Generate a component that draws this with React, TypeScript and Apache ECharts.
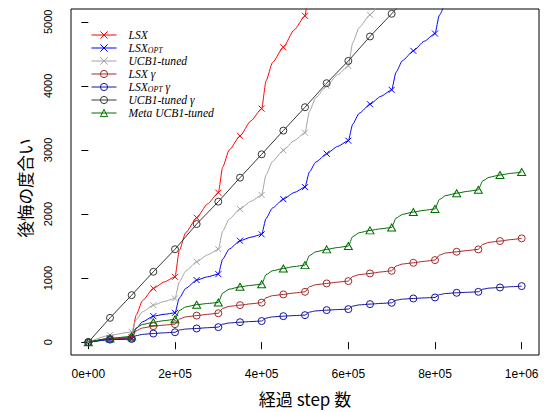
import React, { useEffect, useRef } from 'react';
import * as echarts from 'echarts';

// marker steps: every 50,000 steps from 0 to 1e6
const markSteps = [
  0, 50000, 100000, 150000, 200000, 250000, 300000, 350000, 400000, 450000, 500000,
  550000, 600000, 650000, 700000, 750000, 800000, 850000, 900000, 950000, 1000000,
];
// inside every 100,000-step segment: curve readings at +10k, +25k, +75k
const midOffsets = [10000, 25000, 75000];

const xTickValues = [0, 200000, 400000, 600000, 800000, 1000000];
const xTickLabels = ['0e+00', '2e+05', '4e+05', '6e+05', '8e+05', '1e+06'];
const yTickValues = [0, 1000, 2000, 3000, 4000, 5000];
const yTickLabels = ['0', '1000', '2000', '3000', '4000', '5000'];

const N = null;

const lsxMarks = [0, 60, 73, 839, 1020, 1942, 2333, 3219, 3645, 4604, 5094, 6180, N, N, N, N, N, N, N, N, N];
const lsxMids = [N, N, N, 418, 648, 939, 1435, 1712, 2157, 2732, 2998, 3453, 4077, 4364, 4874, 5583, 5909, N, N, N, N, N, N, N, N, N, N, N, N, N];

const lsxOptMarks = [0, 40, 50, 406, 458, 969, 1062, 1583, 1683, 2232, 2420, 2942, 3145, 3714, 3938, 4547, 4817, 5450, N, N, N];
const lsxOptMids = [N, N, N, 210, 317, 435, 688, 841, 1020, 1296, 1453, 1638, 1930, 2095, 2335, 2655, 2812, 3054, 3401, 3572, 3837, 4212, 4395, 4696, 5102, 5292, N, N, N, N];

const ucbMarks = [0, 109, 160, 578, 683, 1255, 1450, 2078, 2297, 2995, 3270, 4000, 4312, 5110, 5440, N, N, N, N, N, N];
const ucbMids = [N, N, N, 348, 474, 636, 940, 1112, 1362, 1733, 1921, 2198, 2611, 2821, 3146, 3599, 3818, 4172, 4671, 4911, 5292, N, N, N, N, N, N, N, N, N];

const lsxGMarks = [0, 50, 65, 250, 281, 415, 452, 578, 617, 745, 786, 917, 953, 1073, 1114, 1239, 1281, 1411, 1448, 1578, 1620];
const lsxGMids = [N, N, N, 176, 222, 267, 361, 395, 435, 528, 559, 599, 694, 726, 768, 865, 897, 937, 1025, 1055, 1096, 1189, 1220, 1262, 1359, 1392, 1431, 1526, 1559, 1601];

const lsxOptGMarks = [0, 40, 50, 135, 155, 214, 235, 312, 330, 406, 422, 500, 516, 594, 614, 682, 698, 771, 786, 854, 875];
const lsxOptGMids = [N, N, N, 101, 122, 146, 190, 205, 226, 281, 300, 322, 376, 395, 415, 469, 488, 509, 563, 582, 605, 655, 672, 691, 742, 760, 779, 827, 844, 866];

const ucbGMarks = [0, 380, 734, 1099, 1450, 1844, 2193, 2568, 2932, 3302, 3667, 4042, 4390, 4771, 5125, 5490, N, N, N, N, N];

const metaMarks = [0, 60, 90, 310, 357, 585, 620, 864, 905, 1151, 1203, 1448, 1500, 1745, 1790, 2031, 2080, 2325, 2378, 2609, 2656];
const metaMids = [N, N, N, 222, 277, 336, 494, 551, 604, 766, 827, 887, 1053, 1114, 1180, 1350, 1411, 1477, 1647, 1708, 1770, 1935, 1995, 2058, 2227, 2288, 2354, 2517, 2574, 2635];

const CROSS = 'path://M0,0L10,10M10,0L0,10';
const CIRCLE = 'path://M10,5A5,5,0,1,1,0,5A5,5,0,1,1,10,5Z';
const TRIANGLE = 'path://M5,0L10,8.66L0,8.66Z';

type Def = {
  name: string;
  label: string;
  color: string;
  symbol: string;
  size: number | number[];
  marks: (number | null)[];
  mids: (number | null)[] | null;
};

const defs: Def[] = [
  { name: 'LSX', label: '{m|LSX}', color: '#FF0000', symbol: CROSS, size: 6, marks: lsxMarks, mids: lsxMids },
  { name: 'LSX_OPT', label: '{m|LSX}{s|OPT}', color: '#0000FF', symbol: CROSS, size: 6, marks: lsxOptMarks, mids: lsxOptMids },
  { name: 'UCB1-tuned', label: '{m|UCB1-tuned}', color: '#A3A3A3', symbol: CROSS, size: 6, marks: ucbMarks, mids: ucbMids },
  { name: 'LSX γ', label: '{m|LSX γ}', color: '#A52A2A', symbol: CIRCLE, size: 7, marks: lsxGMarks, mids: lsxGMids },
  { name: 'LSX_OPT γ', label: '{m|LSX}{s|OPT}{m| γ}', color: '#1414A0', symbol: CIRCLE, size: 7, marks: lsxOptGMarks, mids: lsxOptGMids },
  { name: 'UCB1-tuned γ', label: '{m|UCB1-tuned γ}', color: '#383838', symbol: CIRCLE, size: 7, marks: ucbGMarks, mids: null },
  { name: 'Meta UCB1-tuned', label: '{m|Meta UCB1-tuned}', color: '#006E00', symbol: TRIANGLE, size: [8, 7], marks: metaMarks, mids: metaMids },
];

function buildData(marks: (number | null)[], mids: (number | null)[] | null) {
  const out: any[] = [];
  const add = (x: number, v: number | null | undefined, isMark: boolean) => {
    if (v === null || v === undefined) return;
    out.push(isMark ? { value: [x, v] } : { value: [x, v], symbol: 'none' });
  };
  for (let seg = 0; seg < 10; seg++) {
    const b = seg * 100000;
    add(markSteps[seg * 2], marks[seg * 2], true);
    add(b + midOffsets[0], mids ? mids[seg * 3] : null, false);
    add(b + midOffsets[1], mids ? mids[seg * 3 + 1] : null, false);
    add(markSteps[seg * 2 + 1], marks[seg * 2 + 1], true);
    add(b + midOffsets[2], mids ? mids[seg * 3 + 2] : null, false);
  }
  add(markSteps[20], marks[20], true);
  return out;
}

const SERIF = "'Liberation Serif', 'DejaVu Serif', serif";
const SANS = "'Liberation Sans', Arial, sans-serif";
const CJK = "'Noto Sans CJK JP', 'Noto Sans', sans-serif";

export default function App() {
  const ref = useRef<HTMLDivElement>(null);
  useEffect(() => {
    if (!ref.current) return;
    const chart = echarts.init(ref.current, undefined, { renderer: 'svg' });
    const labelMap: Record<string, string> = {};
    defs.forEach((d) => (labelMap[d.name] = d.label));
    const option: any = {
      animation: false,
      backgroundColor: '#ffffff',
      grid: {
        left: 71, right: 6, top: 9, bottom: 57,
        show: true, borderColor: '#000', borderWidth: 1, backgroundColor: 'transparent',
      },
      xAxis: {
        type: 'value', min: -40000, max: 1040000,
        axisLine: { show: false },
        splitLine: { show: false },
        axisTick: { show: true, customValues: xTickValues, length: 7, lineStyle: { color: '#000', width: 1 } },
        axisLabel: {
          customValues: xTickValues,
          formatter: (v: number) => { const i = xTickValues.indexOf(v); return i >= 0 ? xTickLabels[i] : ''; },
          color: '#000', fontFamily: SANS, fontSize: 12, margin: 13,
        },
        name: '経過 step 数', nameLocation: 'middle', nameGap: 35, nameMoveOverlap: false,
        nameTextStyle: { fontFamily: CJK, fontSize: 17, color: '#000' },
      },
      yAxis: {
        type: 'value', min: -200, max: 5200,
        axisLine: { show: false },
        splitLine: { show: false },
        axisTick: { show: true, customValues: yTickValues, length: 7, lineStyle: { color: '#000', width: 1 } },
        axisLabel: {
          customValues: yTickValues,
          formatter: (v: number) => { const i = yTickValues.indexOf(v); return i >= 0 ? yTickLabels[i] : ''; },
          rotate: 90, color: '#000', fontFamily: SANS, fontSize: 11, margin: 18,
        },
        name: '後悔の度合い', nameLocation: 'middle', nameGap: 38, nameRotate: 90, nameMoveOverlap: false,
        nameTextStyle: { fontFamily: CJK, fontSize: 16.5, color: '#000', padding: [0, 12, 0, 0] },
      },
      legend: {
        show: true, orient: 'vertical', left: 91, top: 28.5, padding: 0, itemGap: 0,
        itemWidth: 25, itemHeight: 9, selectedMode: false,
        data: defs.map((d) => ({
          name: d.name,
          itemStyle: { color: 'rgba(0,0,0,0)', borderColor: d.color, borderWidth: 1 },
          lineStyle: { color: d.color, width: 1 },
        })),
        formatter: (name: string) => labelMap[name] || name,
        textStyle: {
          color: '#000', fontFamily: SERIF, fontStyle: 'italic', fontSize: 11.6, lineHeight: 13,
          padding: [0, 0, 0, 7],
          rich: {
            m: { color: '#000', fontFamily: SERIF, fontStyle: 'italic', fontSize: 11.6, lineHeight: 13 },
            s: { color: '#000', fontFamily: SERIF, fontStyle: 'italic', fontSize: 7.8, lineHeight: 9, verticalAlign: 'bottom' },
          },
        },
      },
      series: defs.map((d) => ({
        name: d.name,
        type: 'line',
        data: buildData(d.marks, d.mids),
        symbol: d.symbol,
        symbolSize: d.size,
        showSymbol: true,
        showAllSymbol: true,
        smooth: d.mids ? 0.2 : false,
        smoothMonotone: 'x',
        clip: true,
        lineStyle: { color: d.color, width: 1 },
        itemStyle: { color: 'rgba(0,0,0,0)', borderColor: d.color, borderWidth: 1 },
        emphasis: { disabled: true },
        silent: true,
      })),
    };
    chart.setOption(option);
    return () => chart.dispose();
  }, []);
  return (
    <div
      ref={ref}
      style={{ position: 'absolute', left: 0, top: 0, width: 545, height: 412 }}
    />
  );
}
